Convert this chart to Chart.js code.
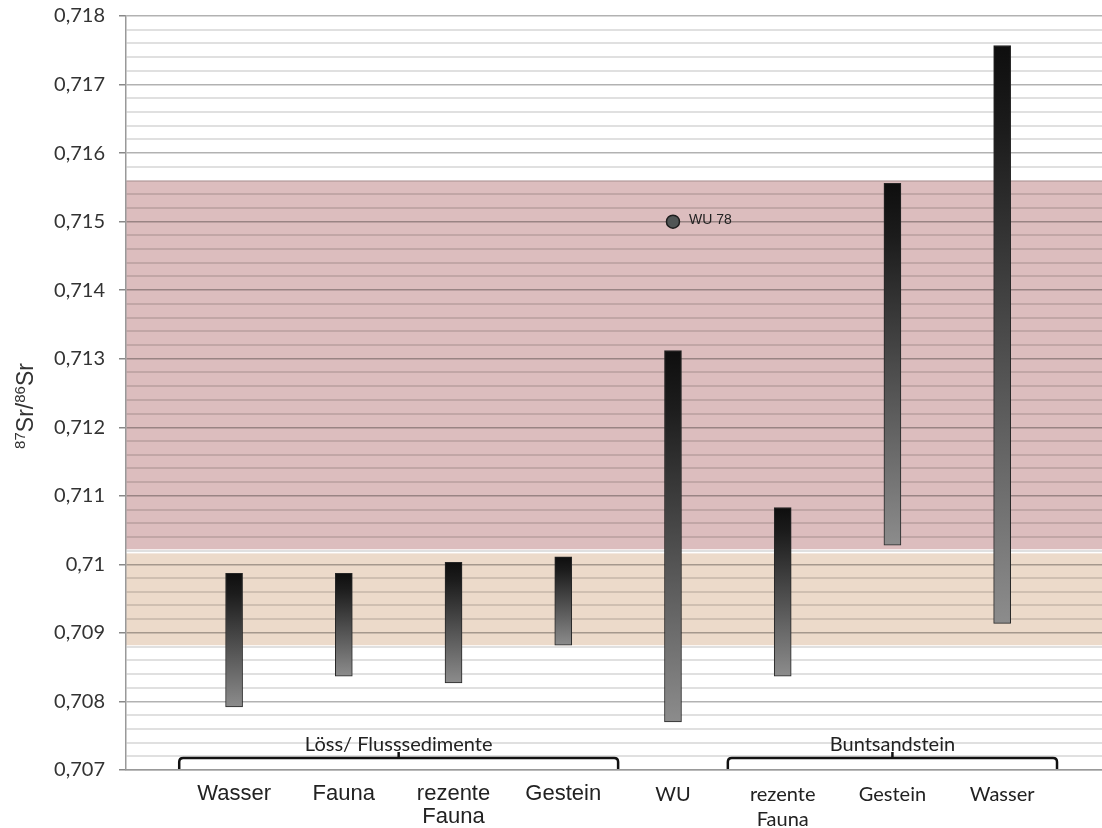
<html>

<head>
    <script src="https://cdn.jsdelivr.net/npm/chart.js@4.4.1/dist/chart.umd.min.js"></script>

    <style>
        body {
            margin: 0;
            background-color: #ffffff;
            overflow: hidden;
        }

        /* shifted up a bit so the plot area starts at the same spot as the original */
        #chartBox {
            position: absolute;
            left: 0;
            top: -10px;
            width: 1110px;
            height: 838px;
        }
    </style>

</head>

<body>
    <div id="chartBox">
        <canvas id="srChart"></canvas>
    </div>
</body>
<script>

    // ---- data ----
    var categories = ['Wasser', 'Fauna', ['rezente', 'Fauna'], 'Gestein', 'WU', ['rezente', 'Fauna'], 'Gestein', 'Wasser'];
    var rangeLow = [0.70792, 0.70837, 0.70827, 0.70882, 0.70770, 0.70837, 0.71028, 0.70914];
    var rangeHigh = [0.70987, 0.70987, 0.71003, 0.71011, 0.71312, 0.71083, 0.71556, 0.71757];

    var groupNames = ['Löss/ Flusssedimente', 'Buntsandstein'];
    var groupFirst = [0, 5];
    var groupLast = [3, 7];

    var pinkBand = [0.71022, 0.71560];
    var beigeBand = [0.70882, 0.71016];

    var outlierName = 'WU 78';
    var outlierCategory = 4;
    var outlierValue = 0.715;

    var yTickValues = [0.707, 0.708, 0.709, 0.710, 0.711, 0.712, 0.713, 0.714, 0.715, 0.716, 0.717, 0.718];

    // ---- helpers ----
    var calibriLike = 'Lato, "Open Sans", sans-serif';
    var arialLike = '"Liberation Sans", Arial, sans-serif';

    function isMajor(v) {
        for (var i = 0; i < yTickValues.length; i++) {
            if (Math.abs(yTickValues[i] - v) < 0.00001) return true;
        }
        return false;
    }

    var barData = [];
    for (var i = 0; i < categories.length; i++) {
        barData.push({ x: i, y: [rangeLow[i], rangeHigh[i]] });
    }

    function barGradient(context) {
        var chart = context.chart;
        if (!chart.chartArea || context.raw === undefined) return '#555';
        var ys = chart.scales.y;
        var top = ys.getPixelForValue(context.raw.y[1]);
        var bottom = ys.getPixelForValue(context.raw.y[0]);
        var g = chart.ctx.createLinearGradient(0, top, 0, bottom);
        g.addColorStop(0, '#0e0e0e');
        g.addColorStop(0.15, '#1c1c1c');
        g.addColorStop(1, '#8c8c8c');
        return g;
    }

    // colored background bands, drawn under the grid
    var bandPlugin = {
        id: 'bands',
        beforeDraw: function (chart) {
            var ctx = chart.ctx;
            var area = chart.chartArea;
            var ys = chart.scales.y;
            ctx.save();
            ctx.fillStyle = '#dcbdbe';
            var t = ys.getPixelForValue(pinkBand[1]);
            var b = ys.getPixelForValue(pinkBand[0]);
            ctx.fillRect(area.left, t, area.right - area.left + 10, b - t);
            ctx.fillStyle = '#ecdaca';
            t = ys.getPixelForValue(beigeBand[1]);
            b = ys.getPixelForValue(beigeBand[0]);
            ctx.fillRect(area.left, t, area.right - area.left + 10, b - t);
            ctx.restore();
        }
    };

    // brackets + group names, outlier label, y axis title with superscripts
    var annotationPlugin = {
        id: 'annotations',
        afterDraw: function (chart) {
            var ctx = chart.ctx;
            var xs = chart.scales.x;
            var ys = chart.scales.y;
            var base = chart.chartArea.bottom;
            ctx.save();

            // group brackets
            for (var g = 0; g < groupNames.length; g++) {
                var x1 = xs.getPixelForValue(groupFirst[g] - 0.5);
                var x2 = xs.getPixelForValue(groupLast[g] + 0.5);
                var xm = (x1 + x2) / 2;
                var yl = base - 12;
                var r = 4;
                ctx.strokeStyle = '#111';
                ctx.lineWidth = 2.5;
                ctx.beginPath();
                ctx.moveTo(x1, base - 1);
                ctx.lineTo(x1, yl + r);
                ctx.quadraticCurveTo(x1, yl, x1 + r, yl);
                ctx.lineTo(x2 - r, yl);
                ctx.quadraticCurveTo(x2, yl, x2, yl + r);
                ctx.lineTo(x2, base - 1);
                ctx.stroke();
                ctx.beginPath();
                ctx.moveTo(xm, yl);
                ctx.lineTo(xm, yl - 6);
                ctx.stroke();

                ctx.fillStyle = '#222';
                ctx.font = '20px ' + calibriLike;
                ctx.textAlign = 'center';
                ctx.textBaseline = 'middle';
                ctx.fillText(groupNames[g], xm, yl - 13);
            }

            // outlier label
            ctx.fillStyle = '#222';
            ctx.font = '14px ' + arialLike;
            ctx.textAlign = 'left';
            ctx.textBaseline = 'middle';
            ctx.fillText(outlierName, xs.getPixelForValue(outlierCategory) + 16, ys.getPixelForValue(outlierValue) - 1);

            // y title 87Sr/86Sr
            var parts = [['87', true], ['Sr/', false], ['86', true], ['Sr', false]];
            var total = 0;
            for (var p = 0; p < parts.length; p++) {
                ctx.font = (parts[p][1] ? '15px ' : '23px ') + arialLike;
                total += ctx.measureText(parts[p][0]).width;
            }
            ctx.translate(33, 416);
            ctx.rotate(-Math.PI / 2);
            ctx.fillStyle = '#333';
            ctx.textAlign = 'left';
            ctx.textBaseline = 'alphabetic';
            var cx = -total / 2;
            for (p = 0; p < parts.length; p++) {
                ctx.font = (parts[p][1] ? '15px ' : '23px ') + arialLike;
                ctx.fillText(parts[p][0], cx, parts[p][1] ? -8 : 0);
                cx += ctx.measureText(parts[p][0]).width;
            }
            ctx.restore();
        }
    };

    var paintingCanvas = document.getElementById('srChart').getContext('2d');
    var chart = new Chart(paintingCanvas, {
        type: 'bar',
        data: {
            datasets: [
                {
                    type: 'scatter',
                    label: outlierName,
                    data: [{ x: outlierCategory, y: outlierValue }],
                    pointRadius: 6.5,
                    pointBackgroundColor: '#505555',
                    pointBorderColor: '#1e1e1e',
                    pointBorderWidth: 1.5
                },
                {
                    label: 'Range',
                    data: barData,
                    backgroundColor: barGradient,
                    borderColor: '#262626',
                    borderWidth: 1,
                    borderSkipped: false,
                    barThickness: 17
                }
            ]
        },
        plugins: [bandPlugin, annotationPlugin],
        options: {
            responsive: true,
            maintainAspectRatio: false,
            animation: false,
            layout: { padding: { left: 0, right: 0, top: 5, bottom: 0 } },
            plugins: {
                legend: { display: false },
                tooltip: { enabled: false }
            },
            scales: {
                x: {
                    type: 'linear',
                    offset: false,
                    min: -0.985,
                    max: 7.91,
                    afterFit: function (scale) { scale.height = 58; },
                    afterBuildTicks: function (scale) {
                        scale.ticks = categories.map(function (c, i) { return { value: i }; });
                    },
                    grid: { display: false },
                    border: { display: true, color: '#999', width: 1.5 },
                    ticks: {
                        padding: 4,
                        autoSkip: false,
                        maxRotation: 0,
                        color: '#222',
                        callback: function (v) { return categories[v]; },
                        font: function (ctx) {
                            if (ctx.index < 4) return { family: arialLike, size: 22, lineHeight: 1.05 };
                            return { family: calibriLike, size: 20, lineHeight: 1.25 };
                        }
                    }
                },
                y: {
                    min: 0.707,
                    max: 0.718,
                    afterFit: function (scale) { scale.width = 126; },
                    afterBuildTicks: function (scale) {
                        var t = [];
                        for (var k = 0; k <= 55; k++) {
                            t.push({ value: Math.round((0.707 + k * 0.0002) * 100000) / 100000 });
                        }
                        scale.ticks = t;
                    },
                    border: { display: true, color: '#999', width: 1.5 },
                    grid: {
                        color: function (ctx) {
                            if (ctx.tick && isMajor(ctx.tick.value)) return 'rgba(0,0,0,0.30)';
                            return 'rgba(0,0,0,0.12)';
                        },
                        lineWidth: function (ctx) {
                            if (ctx.tick && isMajor(ctx.tick.value)) return 1.5;
                            return 2;
                        },
                        tickColor: function (ctx) {
                            if (ctx.tick && isMajor(ctx.tick.value)) return '#888';
                            return 'rgba(0,0,0,0)';
                        },
                        tickLength: 7
                    },
                    ticks: {
                        padding: 14,
                        autoSkip: false,
                        color: '#333',
                        font: { family: calibriLike, size: 20 },
                        callback: function (v) {
                            if (!isMajor(v)) return '';
                            return String(parseFloat(v.toFixed(3))).replace('.', ',');
                        }
                    }
                }
            }
        }
    });

</script>

</html>
